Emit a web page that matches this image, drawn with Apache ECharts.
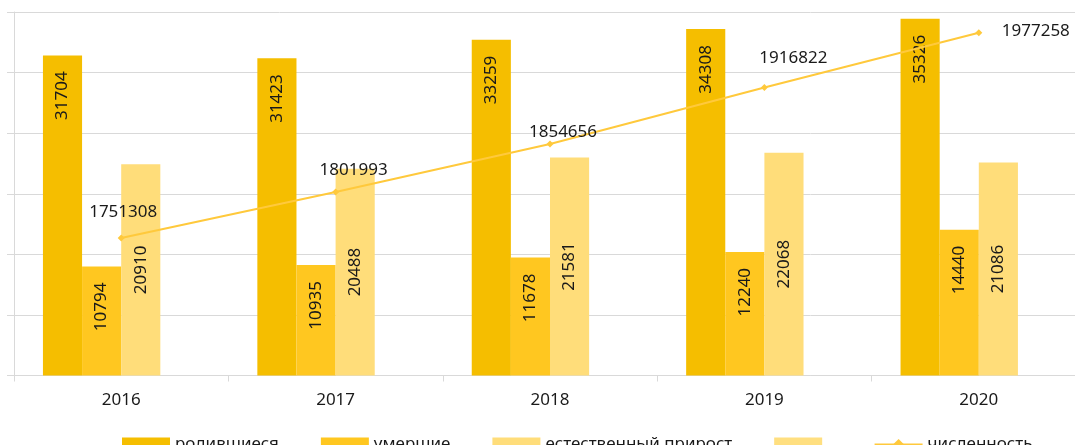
<!DOCTYPE html>
<html>
<head>
<meta charset="utf-8">
<script src="https://cdn.jsdelivr.net/npm/echarts@6/dist/echarts.min.js"></script>
<style>
  html, body { margin: 0; padding: 0; background: #fff; }
  #chart { width: 1075px; height: 445px; }
</style>
</head>
<body>
<div id="chart"></div>
<script>
  var years = ['2016', '2017', '2018', '2019', '2020'];
  var births = [31704, 31423, 33259, 34308, 35326];
  var deaths = [10794, 10935, 11678, 12240, 14440];
  var naturalGrowth = [20910, 20488, 21581, 22068, 21086];
  var population = [1751308, 1801993, 1854656, 1916822, 1977258];

  // label nudges for the population line (Excel labels were moved by hand)
  var popLabelOffsets = [[2, -26], [18, -22], [13, -12], [29, -29], [57, -2]];

  var chart = echarts.init(document.getElementById('chart'));
  var font = 'Noto Sans, Liberation Sans, sans-serif';
  var txt = '#1a1a1a';

  var popData = population.map(function (v, i) {
    return {
      value: v,
      label: { offset: popLabelOffsets[i] }
    };
  });

  var option = {
    animation: false,
    textStyle: { fontFamily: font },
    legend: {
      left: 117,
      top: 431,
      itemWidth: 48,
      itemHeight: 14,
      itemGap: 42,
      textStyle: { fontSize: 17, color: txt, fontFamily: font },
      data: [
        { name: 'родившиеся', icon: 'rect' },
        { name: 'умершие', icon: 'rect' },
        { name: 'естественный прирост', icon: 'rect' },
        { name: '\u00a0', icon: 'rect' },
        'численность'
      ]
    },
    grid: { left: 14, top: 12, width: 1072, bottom: 69.5, outerBoundsMode: 'none' },
    xAxis: {
      type: 'category',
      data: years,
      axisLine: { lineStyle: { color: '#d9d9d9' } },
      axisTick: { show: true, length: 6, lineStyle: { color: '#d9d9d9' } },
      axisLabel: { color: txt, fontSize: 17, margin: 16 }
    },
    yAxis: [
      {
        type: 'value',
        min: 0,
        max: 36000,
        interval: 6000,
        axisLine: { show: true, lineStyle: { color: '#d9d9d9' } },
        axisTick: { show: true, length: 7, lineStyle: { color: '#d9d9d9' } },
        axisLabel: { show: false },
        splitLine: { lineStyle: { color: '#d9d9d9' } }
      },
      {
        type: 'value',
        min: 1600000,
        max: 2000000,
        show: false,
        splitLine: { show: false }
      }
    ],
    series: [
      {
        name: 'родившиеся',
        type: 'bar',
        data: births,
        barGap: 0,
        barCategoryGap: '27%',
        itemStyle: { color: '#F5BE00' },
        label: {
          show: true, position: 'insideTop', distance: 16, rotate: 90,
          align: 'right', verticalAlign: 'middle', fontSize: 17, color: txt
        }
      },
      {
        name: 'умершие',
        type: 'bar',
        data: deaths,
        itemStyle: { color: '#FFC720' },
        label: {
          show: true, position: 'insideTop', distance: 16, rotate: 90,
          align: 'right', verticalAlign: 'middle', fontSize: 17, color: txt
        }
      },
      {
        name: 'естественный прирост',
        type: 'bar',
        data: naturalGrowth,
        itemStyle: { color: '#FFDD7A' },
        label: {
          show: true, position: 'inside', rotate: 90,
          align: 'center', verticalAlign: 'middle', fontSize: 17, color: txt
        }
      },
      {
        name: '\u00a0',
        type: 'bar',
        data: [null, null, null, null, null],
        itemStyle: { color: '#FFDF80' }
      },
      {
        name: 'численность',
        type: 'line',
        yAxisIndex: 1,
        data: popData,
        symbol: 'diamond',
        symbolSize: 7,
        z: 5,
        lineStyle: { color: '#FFC93C', width: 2 },
        itemStyle: { color: '#FFC93C' },
        label: {
          show: true, position: 'inside', align: 'center', verticalAlign: 'middle',
          fontSize: 17, color: txt
        }
      }
    ]
  };
  chart.setOption(option);
</script>
</body>
</html>
